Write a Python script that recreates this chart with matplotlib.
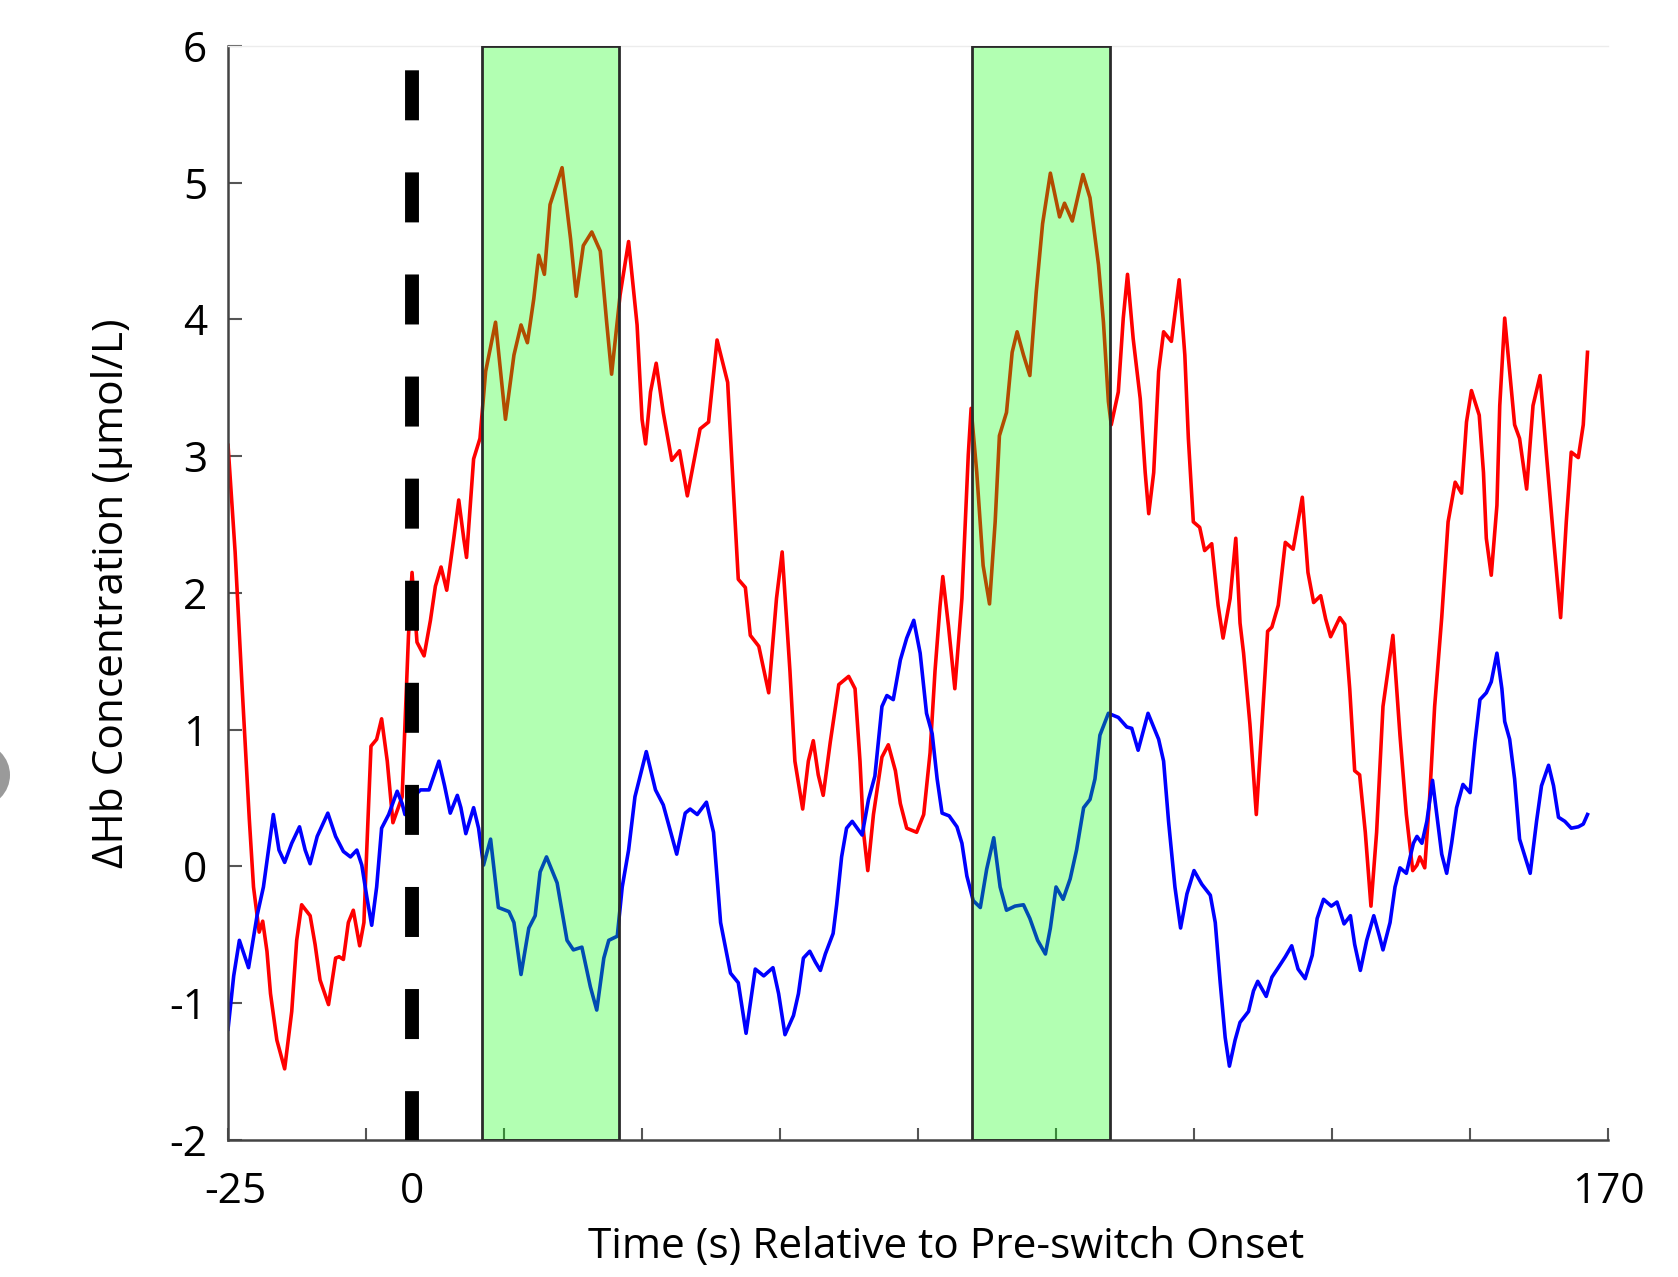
import matplotlib
matplotlib.use("Agg")
import matplotlib.pyplot as plt
from matplotlib.patches import Rectangle, Ellipse

plt.rcParams['font.family'] = ['Open Sans', 'DejaVu Sans']

# ---- data (time in s, relative to pre-switch onset) ----
red_t = [-26.0, -25.0, -24.0, -23.0, -22.4, -21.6, -21.1, -20.5, -20.0, -19.1, -18.0, -17.0,
         -16.3, -15.6, -14.4, -13.7, -13.0, -11.8, -10.8, -10.3, -9.7, -9.0, -8.3, -7.4,
         -6.8, -6.4, -5.8, -5.0, -4.3, -3.5, -2.7, -1.4, -1.0, -0.5, 0.0, 0.7, 1.7, 2.6,
         3.3, 4.1, 4.9, 5.9, 6.6, 7.3, 7.7, 8.7, 9.6, 10.4, 11.8, 13.2, 14.4, 15.4, 16.3,
         17.2, 17.9, 18.7, 19.5, 21.2, 22.4, 23.2, 24.2, 25.4, 26.6, 27.5, 28.2, 29.4,
         30.6, 31.8, 32.5, 33.0, 33.7, 34.5, 35.5, 36.7, 37.8, 38.9, 40.7, 41.9, 43.1,
         44.6, 45.4, 46.1, 47.1, 47.8, 49.0, 50.4, 51.5, 52.3, 53.4, 54.1, 55.2, 56.0,
         56.7, 57.4, 58.1, 59.1, 60.3, 61.7, 62.6, 63.3, 63.8, 64.4, 65.2, 66.4, 67.3,
         68.3, 69.0, 69.9, 71.3, 72.3, 73.2, 73.9, 74.6, 75.0, 75.8, 76.7, 77.7, 78.6,
         79.0, 79.8, 80.7, 81.6, 82.4, 83.0, 84.0, 84.8, 85.5, 86.4, 87.3, 88.2, 89.1,
         90.2, 91.5, 92.2, 93.3, 94.8, 95.8, 97.0, 97.7, 98.4, 98.8, 99.8, 100.5, 101.1,
         101.9, 102.9, 103.6, 104.1, 104.8, 105.5, 106.2, 107.3, 108.4, 109.2, 109.7,
         110.4, 111.3, 112.0, 113.0, 113.9, 114.6, 115.6, 116.4, 117.0, 117.5, 118.4,
         119.3, 120.1, 120.9, 121.5, 122.4, 123.4, 124.5, 125.8, 126.6, 127.4, 128.4,
         129.1, 129.8, 131.1, 131.8, 132.5, 133.2, 133.9, 134.7, 135.5, 136.3, 137.2,
         138.6, 139.6, 140.5, 141.4, 142.0, 142.4, 143.1, 143.8, 144.5, 145.5, 146.4,
         147.4, 148.3, 149.0, 149.7, 150.8, 151.4, 151.8, 152.5, 153.3, 153.7, 154.4,
         155.1, 155.8, 156.5, 157.5, 158.4, 159.4, 160.3, 161.3, 162.3, 163.1, 163.8,
         164.8, 165.5, 166.1]
red_hb = [3.08, 2.30, 1.30, 0.35, -0.15, -0.48, -0.40, -0.62, -0.93, -1.27, -1.48, -1.06,
          -0.54, -0.28, -0.36, -0.57, -0.83, -1.01, -0.67, -0.66, -0.68, -0.41, -0.32, -0.58,
          -0.41, 0.12, 0.88, 0.93, 1.08, 0.77, 0.32, 0.51, 1.04, 1.69, 2.15, 1.64, 1.54, 1.80,
          2.05, 2.19, 2.02, 2.40, 2.68, 2.40, 2.26, 2.98, 3.13, 3.62, 3.98, 3.27, 3.74, 3.96, 3.83,
          4.15, 4.47, 4.33, 4.84, 5.11, 4.59, 4.17, 4.54, 4.64, 4.50, 3.98, 3.60, 4.18,
          4.57, 3.96, 3.27, 3.09, 3.47, 3.68, 3.32, 2.97, 3.04, 2.71, 3.20, 3.25, 3.85,
          3.54, 2.76, 2.10, 2.04, 1.69, 1.61, 1.27, 1.96, 2.30, 1.43, 0.77, 0.42, 0.77,
          0.92, 0.67, 0.52, 0.91, 1.33, 1.39, 1.30, 0.77, 0.25, -0.03, 0.38, 0.80, 0.89,
          0.70, 0.46, 0.28, 0.25, 0.38, 0.83, 1.43, 1.90, 2.12, 1.76, 1.30, 1.96, 3.01,
          3.35, 2.88, 2.20, 1.92, 2.52, 3.15, 3.32, 3.76, 3.91, 3.74, 3.59, 4.20, 4.70,
          5.07, 4.75, 4.85, 4.72, 5.06, 4.89, 4.40, 3.98, 3.40, 3.23, 3.47, 4.01, 4.33,
          3.86, 3.42, 2.88, 2.58, 2.88, 3.62, 3.91, 3.84, 4.29, 3.74, 3.13,
          2.52, 2.48, 2.31, 2.36, 1.91, 1.67, 1.96, 2.40, 1.78, 1.56, 1.04,
          0.38, 1.04, 1.72, 1.75, 1.91, 2.37, 2.32, 2.70, 2.15, 1.93, 1.98,
          1.81, 1.68, 1.82, 1.77, 1.30, 0.70, 0.67, 0.25, -0.29, 0.25, 1.17,
          1.69, 0.96, 0.38, -0.03, 0.01, 0.07, -0.01, 0.51, 1.17, 1.82, 2.52,
          2.81, 2.73, 3.25, 3.48, 3.30, 2.88, 2.40, 2.13, 2.64, 3.37, 4.01,
          3.62, 3.23, 3.13, 2.76, 3.37, 3.59, 3.01, 2.40, 1.82, 2.52, 3.03,
          2.99, 3.23, 3.76]

blue_t = [-26.0, -25.2, -24.4, -23.1, -21.9, -21.0, -19.6, -18.8, -18.0, -17.0, -15.9, -15.1,
          -14.4, -13.4, -11.9, -10.8, -9.7, -8.7, -7.8, -7.1, -6.4, -5.7, -5.0, -4.3, -3.3,
          -2.1, -1.4, -1.0, 0.0, 1.2, 2.4, 3.8, 4.6, 5.4, 6.4, 6.9, 7.6, 8.7, 9.4, 10.1, 11.1,
          12.2, 13.7, 14.4, 15.4, 16.5, 17.4, 18.1, 19.0, 20.5, 21.9, 22.8, 24.0, 25.2,
          26.1, 27.1, 27.8, 29.0, 29.7, 30.6, 31.5, 33.1, 34.4, 35.5, 37.4, 38.6, 39.3,
          40.3, 41.6, 42.6, 43.6, 45.0, 46.1, 47.2, 48.5, 49.7, 51.0, 51.8, 52.7, 53.9,
          54.6, 55.3, 56.2, 57.0, 57.7, 58.4, 59.5, 60.0, 60.7, 61.4, 62.2, 62.9, 63.6,
          64.5, 65.4, 66.4, 67.1, 68.0, 69.0, 69.9, 70.9, 71.8, 72.7, 73.5, 74.2, 74.9,
          75.9, 77.0, 77.7, 78.4, 79.3, 80.3, 81.2, 82.2, 83.1, 84.0, 85.2, 86.4, 87.3,
          88.4, 89.5, 90.2, 91.0, 92.0, 93.0, 93.9, 94.9, 95.8, 96.5, 97.2, 98.4, 99.8,
          101.0, 101.7, 102.6, 104.0, 105.5, 106.2, 106.9, 107.8, 108.6, 109.5, 110.5,
          111.6, 112.8, 113.5, 114.2, 114.9, 115.5, 116.3, 117.0, 118.2, 118.9, 119.5,
          120.7, 121.5, 122.4, 123.4, 124.3, 125.2, 126.2, 127.2, 127.9, 128.8, 129.9,
          130.7, 131.7, 132.6, 133.2, 134.0, 134.9, 135.9, 136.7, 137.2, 138.2, 138.9,
          139.6, 140.5, 141.5, 142.0, 142.7, 143.4, 144.2, 144.8, 145.5, 146.2, 146.9,
          147.6, 148.5, 149.5, 150.2, 150.9, 151.8, 152.5, 153.3, 154.0, 154.4, 155.1,
          155.8, 156.5, 158.0, 158.9, 159.6, 160.6, 161.3, 162.0, 162.9, 163.8, 164.8,
          165.5, 166.1]
blue_hb = [-1.19, -0.80, -0.54, -0.74, -0.36, -0.15, 0.38, 0.12, 0.03, 0.17, 0.29, 0.12,
           0.02, 0.22, 0.39, 0.22, 0.11, 0.07, 0.12, 0.01, -0.22, -0.43, -0.15, 0.28, 0.38,
           0.55, 0.46, 0.38, 0.50, 0.56, 0.56, 0.77, 0.59, 0.39, 0.52, 0.43, 0.24, 0.43, 0.28, 0.01, 0.20,
           -0.30, -0.33, -0.41, -0.79, -0.45, -0.36, -0.04, 0.07, -0.12, -0.54, -0.61, -0.59, -0.88,
           -1.05, -0.67, -0.54, -0.51, -0.15, 0.12, 0.51, 0.84, 0.56, 0.45, 0.09, 0.39, 0.42,
           0.38, 0.47, 0.25, -0.41, -0.78, -0.85, -1.22, -0.75, -0.80, -0.74, -0.93, -1.23, -1.09,
           -0.93, -0.67, -0.62, -0.70, -0.76, -0.64, -0.49, -0.28, 0.07, 0.28, 0.33, 0.28, 0.23,
           0.49, 0.66, 1.17, 1.25, 1.22, 1.51, 1.67, 1.80, 1.56, 1.12, 0.97, 0.64, 0.39,
           0.37, 0.29, 0.17, -0.07, -0.25, -0.30, -0.02, 0.21, -0.15, -0.32, -0.29, -0.28, -0.38,
           -0.54, -0.64, -0.45, -0.15, -0.24, -0.09, 0.12, 0.43, 0.49, 0.64, 0.96, 1.12, 1.09,
           1.02, 1.01, 0.85, 1.12, 0.93, 0.77, 0.33, -0.15, -0.45, -0.20, -0.03,
           -0.13, -0.21, -0.41, -0.85, -1.25, -1.46, -1.27, -1.14, -1.06, -0.91, -0.84,
           -0.95, -0.81, -0.74, -0.66, -0.58, -0.75, -0.82, -0.65, -0.38, -0.24, -0.29,
           -0.26, -0.42, -0.36, -0.57, -0.76, -0.54, -0.36, -0.51, -0.61, -0.41, -0.15,
           -0.01, -0.05, 0.17, 0.22, 0.17, 0.33, 0.63, 0.38, 0.09, -0.05, 0.17,
           0.43, 0.60, 0.54, 0.91, 1.22, 1.27, 1.35, 1.56, 1.30, 1.06, 0.93,
           0.64, 0.20, -0.05, 0.33, 0.59, 0.74, 0.59, 0.36, 0.33, 0.28, 0.29,
           0.31, 0.38]

# switch periods (green) and tick labels
switch_start = [9.9, 79.1]
switch_end = [29.2, 98.6]
onset = 0
x_min, x_max = -26, 169
x_labels = ['-25', '0', '170']
y_ticks = [-2, -1, 0, 1, 2, 3, 4, 5, 6]

FS = 30.5

fig = plt.figure(figsize=(16.78, 12.77), dpi=100)
ax = fig.add_axes([0.1359, 0.1073, 0.8224, 0.8567])

ax.plot(red_t, red_hb, color='#ff0000', lw=2.6, solid_joinstyle='round', zorder=2)
ax.plot(blue_t, blue_hb, color='#0000ff', lw=2.6, solid_joinstyle='round', zorder=2)

# green boxes drawn over the traces (semi-transparent)
for s, e in zip(switch_start, switch_end):
    ax.add_patch(Rectangle((s, -2), e - s, 8, facecolor=(0, 1, 0, 0.3),
                           edgecolor='#2a2a2a', lw=2, zorder=3))

# onset marker
ax.plot([onset, onset], [6, -2], color='black', lw=10,
        linestyle=(5.6, (3.6, 3.75)), solid_capstyle='butt', zorder=4)

ax.set_xlim(x_min, x_max)
ax.set_ylim(-2, 6)

step = (x_max - x_min) / 10
ax.xaxis.remove_overlapping_locs = False
ax.set_xticks([x_min + step * k for k in range(11)])
ax.set_xticklabels([])
ax.set_xticks([x_min + 1, onset, x_max], minor=True)
ax.set_xticklabels(x_labels, minor=True, fontsize=FS)
ax.tick_params(axis='x', which='minor', length=0, pad=22)
ax.tick_params(axis='x', which='major', direction='in', length=9, width=1.5, color='#555555')

ax.set_yticks(y_ticks)
ax.set_yticklabels([str(v) for v in y_ticks], fontsize=FS)
ax.tick_params(axis='y', direction='in', length=10, width=1.5, color='#555555', pad=15)

for side in ['left', 'bottom']:
    ax.spines[side].set_color('#444444')
    ax.spines[side].set_linewidth(1.8)
ax.spines['right'].set_visible(False)
ax.spines['top'].set_color('#ececec')
ax.spines['top'].set_linewidth(1)

ax.set_xlabel('Time (s) Relative to Pre-switch Onset', fontsize=FS)
ax.xaxis.label.set_va('center')
ax.xaxis.set_label_coords(0.52, -0.098)
ax.set_ylabel('\u0394Hb Concentration (\u03bcmol/L)', fontsize=FS)
ax.yaxis.label.set_va('center')
ax.yaxis.set_label_coords(-0.084, 0.5)

# grey blob at the left edge of the original image
fig.patches.append(Ellipse((-22 / 1678, 1 - 775 / 1277), 64 / 1678, 64 / 1277,
                           transform=fig.transFigure, facecolor='#9a9a9a',
                           edgecolor='none', figure=fig))

fig.savefig('out.png', dpi=100)
